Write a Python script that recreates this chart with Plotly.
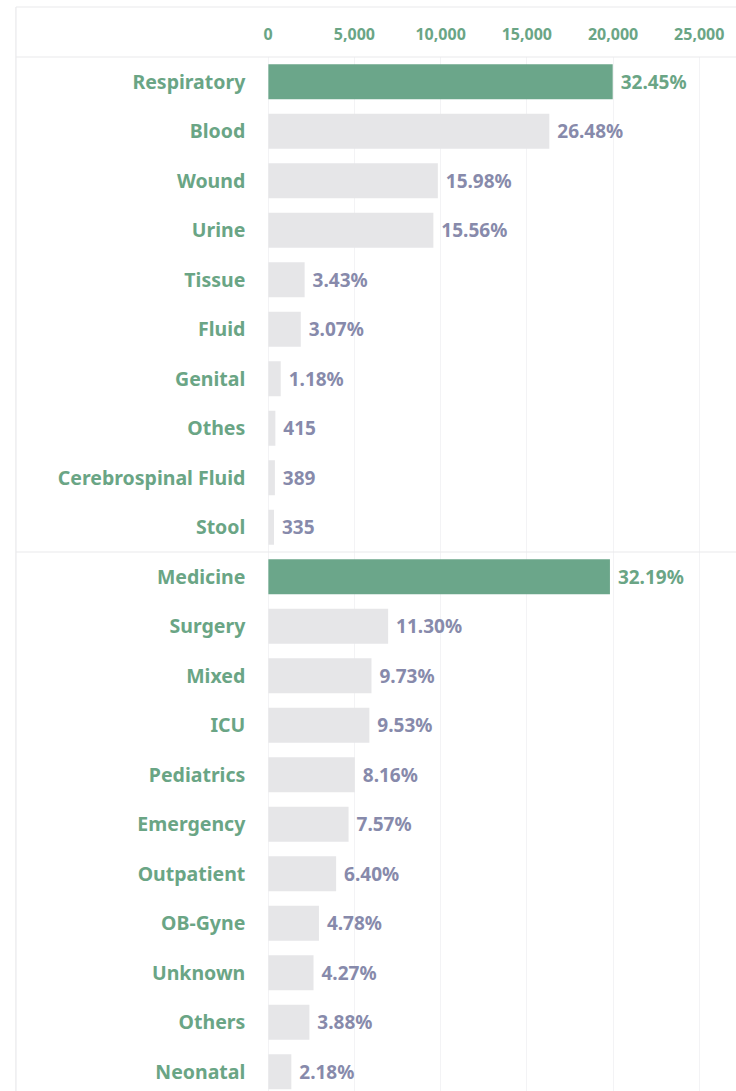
import plotly.graph_objects as go

# Isolates by specimen type
specimen_types = ["Respiratory", "Blood", "Wound", "Urine", "Tissue", "Fluid",
                  "Genital", "Othes", "Cerebrospinal Fluid", "Stool"]
specimen_counts = [19980, 16304, 9839, 9580, 2112, 1890, 727, 415, 389, 335]

# Isolates by ward type
ward_types = ["Medicine", "Surgery", "Mixed", "ICU", "Pediatrics", "Emergency",
              "Outpatient", "OB-Gyne", "Unknown", "Others", "Neonatal"]
ward_counts = [19820, 6957, 5991, 5868, 5024, 4661, 3940, 2943, 2629, 2389, 1342]

x_ticks = [0, 5000, 10000, 15000, 20000, 25000]
x_tick_labels = ["0", "5,000", "10,000", "15,000", "20,000", "25,000"]

GREEN = "#6ba68a"
GREEN_TEXT = "#6aa585"
GREY_BAR = "#e6e6e8"
VALUE_TEXT = "#878aab"
LINE = "#e9e9eb"
GRID = "#f3f3f5"
FONT = "Noto Sans"

W, H = 736, 1091
PLOT_LEFT = 265
ROW = 49.5


def labels(counts):
    total = sum(counts)
    out = []
    for c in counts:
        pct = c / total * 100
        out.append(f" {pct:.2f}%" if pct >= 1 else f" {c:,}")
    return out


def colours(counts):
    top = max(counts)
    return [GREEN if c == top else GREY_BAR for c in counts]


def text_colours(counts):
    top = max(counts)
    return [GREEN_TEXT if c == top else VALUE_TEXT for c in counts]


fig = go.Figure()

for cats, counts, xa, ya in [(specimen_types, specimen_counts, "x", "y"),
                             (ward_types, ward_counts, "x2", "y2")]:
    fig.add_trace(go.Bar(
        y=cats, x=counts, orientation="h",
        marker=dict(color=colours(counts), line=dict(width=0)),
        text=labels(counts), textposition="outside",
        textfont=dict(family=FONT, size=19, color=text_colours(counts), weight="bold"),
        cliponaxis=False, xaxis=xa, yaxis=ya, hoverinfo="skip",
    ))

y_top1 = 57
y_sep = 552
dom_x = [PLOT_LEFT / W, 1]
x_max = (W - PLOT_LEFT) / 86.8 * 5000

n2_visible = (H - y_sep) / ROW

common_x = dict(
    domain=dom_x, range=[0, x_max], showgrid=True, gridcolor=GRID, gridwidth=1,
    zeroline=True, zerolinecolor=GRID, zerolinewidth=1, tickvals=x_ticks,
    fixedrange=True, showline=False,
)
common_y = dict(
    type="category", showgrid=False, zeroline=False, showline=False,
    ticks="outside", ticklen=18, tickcolor="rgba(0,0,0,0)",
    tickfont=dict(family=FONT, size=19.5, color=GREEN_TEXT, weight="bold"),
)

fig.update_layout(
    width=W, height=H,
    margin=dict(l=0, r=0, t=0, b=0),
    paper_bgcolor="white", plot_bgcolor="white",
    showlegend=False, bargap=0.29,
    xaxis=dict(**common_x, anchor="y", side="top", showticklabels=True,
               ticktext=x_tick_labels, ticks="outside", ticklen=10,
               tickcolor="rgba(0,0,0,0)",
               tickfont=dict(family=FONT, size=16, color=GREEN_TEXT, weight="bold")),
    xaxis2=dict(**common_x, anchor="y2", showticklabels=False, ticks=""),
    yaxis=dict(**common_y, domain=[1 - y_sep / H, 1 - y_top1 / H], anchor="x",
               autorange="reversed"),
    yaxis2=dict(**common_y, domain=[0, 1 - y_sep / H], anchor="x2",
                range=[n2_visible - 0.5, -0.5]),
)

# frame and separators
def hline(ypx):
    fig.add_shape(type="line", xref="paper", yref="paper",
                  x0=11 / W, x1=1, y0=1 - ypx / H, y1=1 - ypx / H,
                  line=dict(color=LINE, width=1.2), layer="above")

for ypx in (7, y_top1, y_sep):
    hline(ypx)
fig.add_shape(type="line", xref="paper", yref="paper",
              x0=11 / W, x1=11 / W, y0=0, y1=1 - 7 / H,
              line=dict(color=LINE, width=1.2), layer="above")

fig.write_html("out.html")
